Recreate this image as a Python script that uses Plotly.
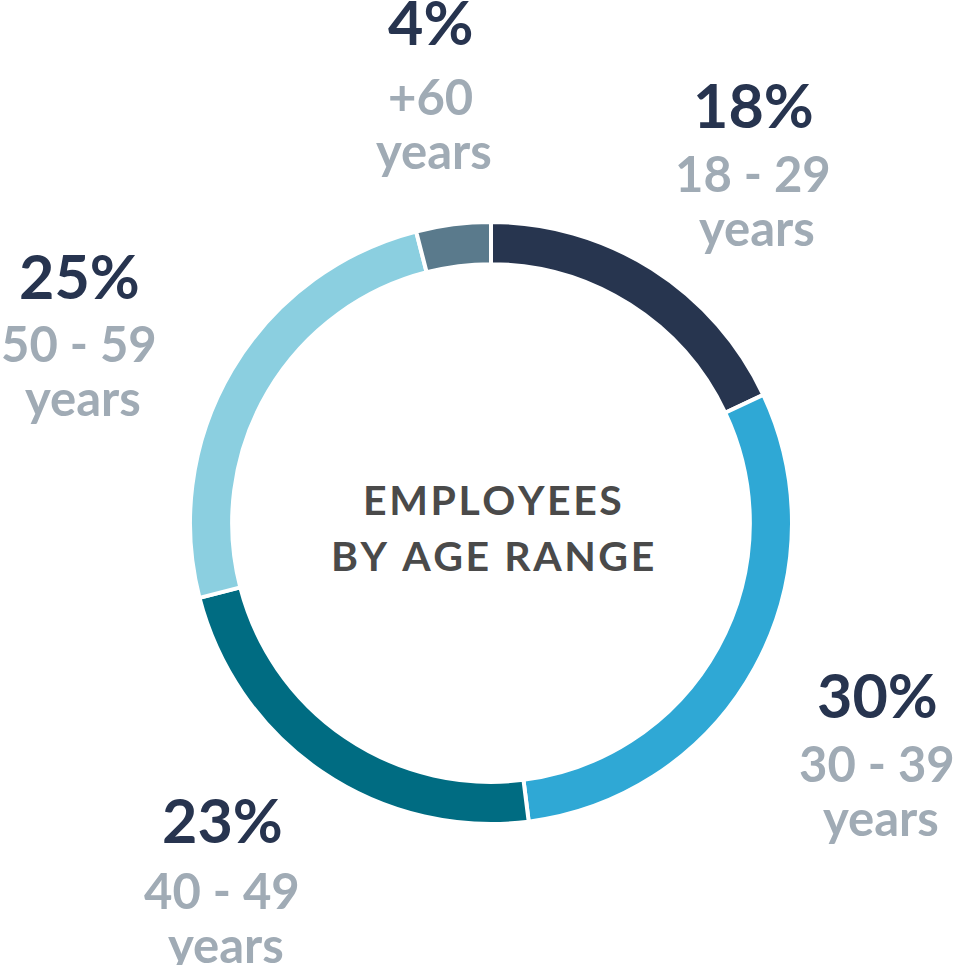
import plotly.graph_objects as go

# Data
age_ranges = ["18 - 29", "30 - 39", "40 - 49", "50 - 59", "+60"]
shares = [18, 30, 23, 25, 4]
slice_colors = ["#27354F", "#2FA8D5", "#006C82", "#8BCFE0", "#5A7A8C"]
center_lines = ["EMPLOYEES", "BY AGE RANGE"]

W, H = 958, 965
# label anchor pixel positions (center x, pct center y, range center y)
label_pos = [
    (753, 104, 173),
    (877, 694, 763),
    (222, 819, 890),
    (79, 276, 343),
    (430, 22, 96),
]
YEARS_OFFSET = 54

cx, cy, R = 491, 523, 301

fig = go.Figure(go.Pie(
    labels=age_ranges,
    values=shares,
    sort=False,
    direction="clockwise",
    rotation=0,
    hole=0.86,
    marker=dict(colors=slice_colors, line=dict(color="white", width=4)),
    textinfo="none",
    hoverinfo="label+percent",
    showlegend=False,
    domain=dict(x=[(cx - R) / W, (cx + R) / W],
                y=[(H - cy - R) / H, (H - cy + R) / H]),
))

def px2paper(x, y):
    return x / W, 1 - y / H

annotations = []
font_family = "Lato, 'Open Sans', sans-serif"
for (x, yp, yr), rng, val in zip(label_pos, age_ranges, shares):
    X, Y = px2paper(x, yp)
    annotations.append(dict(x=X, y=Y, xref="paper", yref="paper", text=f"<b>{val}%</b>",
                            showarrow=False, xanchor="center", yanchor="middle",
                            font=dict(family=font_family, size=61, color="#27344F")))
    X, Y = px2paper(x, yr)
    annotations.append(dict(x=X, y=Y, xref="paper", yref="paper", text=f"<b>{rng}</b>",
                            showarrow=False, xanchor="center", yanchor="middle",
                            font=dict(family=font_family, size=49, color="#A0ABB5")))
    X, Y = px2paper(x + 4, yr + YEARS_OFFSET)
    annotations.append(dict(x=X, y=Y, xref="paper", yref="paper", text="<b>years</b>",
                            showarrow=False, xanchor="center", yanchor="middle",
                            font=dict(family=font_family, size=49, color="#A0ABB5")))

HS = "\u200a"
for i, line in enumerate(center_lines):
    spaced = HS.join(line)
    X, Y = px2paper(cx + 1, 500 + i * 55)
    annotations.append(dict(x=X, y=Y, xref="paper", yref="paper", text=f"<b>{spaced}</b>",
                            showarrow=False, xanchor="center", yanchor="middle",
                            font=dict(family=font_family, size=41, color="#4A4A4A")))

fig.update_layout(
    width=W, height=H,
    margin=dict(l=0, r=0, t=0, b=0),
    paper_bgcolor="white", plot_bgcolor="white",
    annotations=annotations,
)

fig.write_html("out.html", config={"displayModeBar": False},
               post_script="document.body.style.margin='0';")
